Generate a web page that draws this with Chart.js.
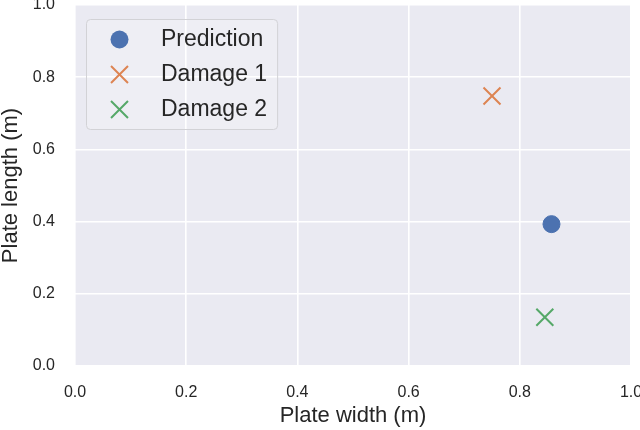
<!DOCTYPE html>
<html>
<head>
<meta charset="utf-8">
<script src="https://cdn.jsdelivr.net/npm/chart.js@4.4.1/dist/chart.umd.min.js"></script>
<style>
  html, body { margin: 0; padding: 0; background: #ffffff; }
  canvas { display: block; }
</style>
</head>
<body>
<canvas id="mycanvas" width="640" height="430"></canvas>
<script>
// values
const seriesLabels = ['Prediction', 'Damage 1', 'Damage 2'];
const seriesX = [0.857, 0.75, 0.845];   // plate width (m)
const seriesY = [0.393, 0.748, 0.135];  // plate length (m)
const seriesColors = ['#4C72B0', '#DD8452', '#55A868'];
const seriesMarkers = ['circle', 'crossRot', 'crossRot'];
const axisTicks = [0, 0.2, 0.4, 0.6, 0.8, 1.0];

const FONT = "'Liberation Sans', Arial, sans-serif";
const TEXT = '#262626';

const datasets = seriesLabels.map(function (lbl, i) {
  const round = seriesMarkers[i] === 'circle';
  return {
    label: lbl,
    data: [{ x: seriesX[i], y: seriesY[i] }],
    pointStyle: seriesMarkers[i],
    pointRadius: round ? 8.5 : 12,
    pointHoverRadius: round ? 8.5 : 12,
    pointBorderWidth: round ? 1 : 2,
    backgroundColor: seriesColors[i],
    borderColor: seriesColors[i]
  };
});

// grey panel behind the plot, like seaborn darkgrid
const panelBg = {
  id: 'panelBg',
  beforeDraw(chart) {
    const a = chart.chartArea, ctx = chart.ctx;
    ctx.save();
    ctx.fillStyle = '#EAEAF2';
    ctx.fillRect(a.left, a.top, a.right - a.left, a.bottom - a.top);
    ctx.restore();
  }
};

// legend drawn inside the upper left corner of the plot
const boxLegend = {
  id: 'boxLegend',
  afterDatasetsDraw(chart) {
    const ctx = chart.ctx, a = chart.chartArea;
    const x0 = a.left + 11, y0 = a.top + 14;
    const rowH = 35, markX = 33.5, textX = 75;
    ctx.save();
    ctx.font = '23px ' + FONT;
    let tw = 0;
    chart.data.datasets.forEach(function (ds) { tw = Math.max(tw, ctx.measureText(ds.label).width); });
    const w = textX + tw + 10, h = rowH * chart.data.datasets.length + 5;

    ctx.beginPath();
    ctx.roundRect(x0 + 0.5, y0 + 0.5, w, h, 4);
    ctx.fillStyle = 'rgba(255,255,255,0.2)';
    ctx.fill();
    ctx.strokeStyle = '#D2D2D6';
    ctx.lineWidth = 1;
    ctx.stroke();

    chart.data.datasets.forEach(function (ds, i) {
      const cy = y0 + 20.5 + i * rowH, cx = x0 + markX;
      ctx.fillStyle = ds.backgroundColor;
      ctx.strokeStyle = ds.borderColor;
      if (ds.pointStyle === 'circle') {
        ctx.beginPath();
        ctx.arc(cx, cy, 9, 0, Math.PI * 2);
        ctx.fill();
      } else {
        const d = ds.pointRadius * Math.cos(Math.PI / 4);
        ctx.lineWidth = 2;
        ctx.beginPath();
        ctx.moveTo(cx - d, cy - d); ctx.lineTo(cx + d, cy + d);
        ctx.moveTo(cx - d, cy + d); ctx.lineTo(cx + d, cy - d);
        ctx.stroke();
      }
      ctx.fillStyle = TEXT;
      ctx.textBaseline = 'middle';
      ctx.textAlign = 'left';
      ctx.fillText(ds.label, x0 + textX, cy);
    });
    ctx.restore();
  }
};

function axis(title, isY) {
  return {
    type: 'linear',
    min: 0,
    max: 1,
    afterBuildTicks(scale) { scale.ticks = axisTicks.map(function (v) { return { value: v }; }); },
    afterFit(scale) {
      if (isY) { scale.width = 75; scale.paddingTop = 0; scale.paddingBottom = 0; }
      else { scale.height = 64; scale.paddingLeft = 0; scale.paddingRight = 0; }
    },
    border: { display: false },
    grid: { color: '#ffffff', lineWidth: 1.6, drawTicks: false },
    ticks: {
      padding: isY ? 20 : 17,
      color: TEXT,
      font: { family: FONT, size: 16 },
      callback: function (v) { return Number(v).toFixed(1); }
    },
    title: {
      display: true,
      text: title,
      color: TEXT,
      font: { family: FONT, size: 22, lineHeight: isY ? 1 : 1.2 },
      padding: isY ? { top: 0, bottom: 0 } : { top: 0, bottom: 1 }
    }
  };
}

var ctx_live = document.getElementById('mycanvas');
var myChart = new Chart(ctx_live, {
  type: 'scatter',
  data: { datasets: datasets },
  options: {
    responsive: false,
    animation: false,
    layout: { autoPadding: false, padding: { top: 5, right: 9, left: 0, bottom: 0 } },
    plugins: {
      legend: { display: false },
      tooltip: { enabled: false }
    },
    scales: {
      x: axis('Plate width (m)', false),
      y: axis('Plate length (m)', true)
    }
  },
  plugins: [panelBg, boxLegend]
});
</script>
</body>
</html>
